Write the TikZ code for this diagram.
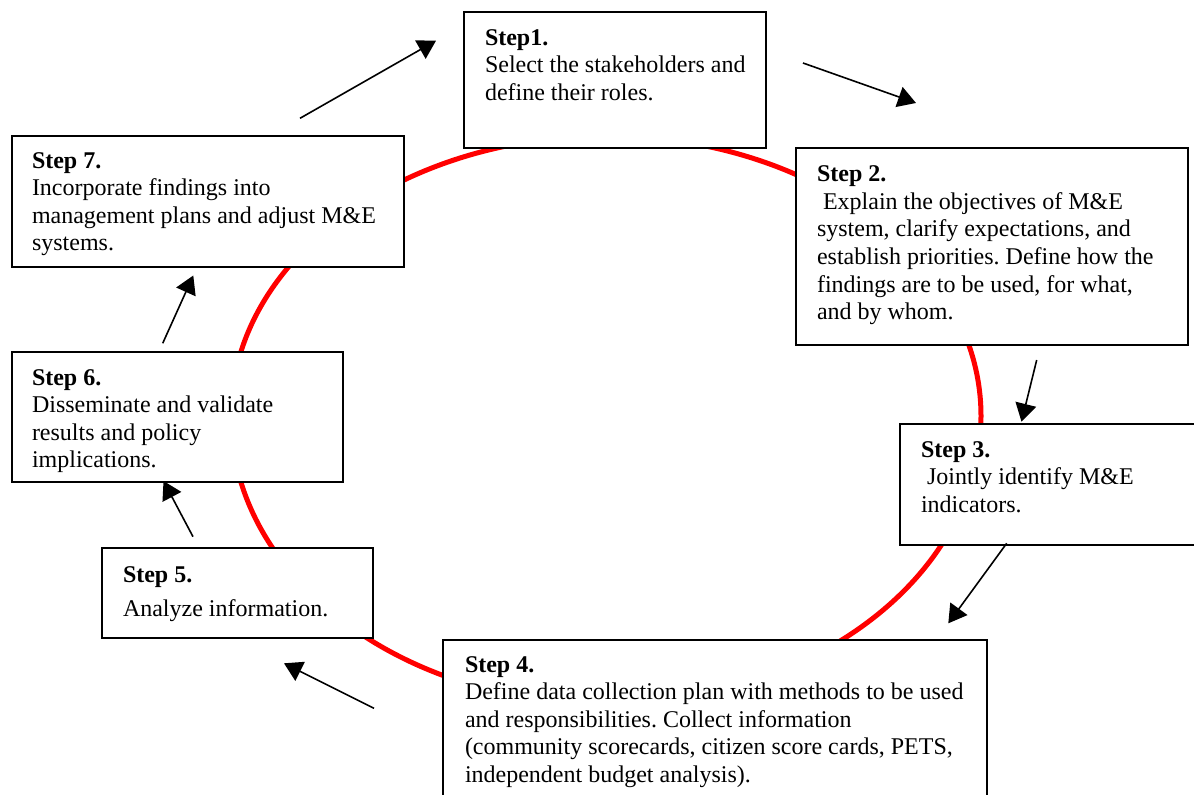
\documentclass[tikz,border=0pt]{standalone}
\usepackage{fontspec}
\setmainfont{Liberation Serif}
\frenchspacing
\usetikzlibrary{arrows.meta}
\begin{document}
\begin{tikzpicture}[x=1pt,y=-1pt,
  ring/.style={draw=red,line width=5pt},
  stepbox/.style={draw=black,fill=white,line width=1.8pt,anchor=north west,inner sep=0pt,outer sep=0pt},
  steptext/.style={anchor=north west,inner sep=0pt,outer sep=0pt,align=left,font=\fontsize{24}{27.6}\selectfont},
  flow/.style={draw=black,line width=1.6pt,-{Triangle[length=18pt,width=21pt]}}]
\useasboundingbox (0,0) rectangle (1194,795);
% red cycle (slightly egg shaped: flatter at the top)
\draw[ring] (231,416) arc[start angle=180,end angle=0,x radius=375pt,y radius=280pt]
  arc[start angle=0,end angle=-180,x radius=375pt,y radius=288pt] -- cycle;
% boxes
\node[stepbox,minimum width=302pt,minimum height=136pt] (b1) at (464,12) {};
\node[stepbox,minimum width=392pt,minimum height=197pt] (b2) at (796,148) {};
\node[stepbox,minimum width=302pt,minimum height=121pt] (b3) at (900,424) {};
\node[stepbox,minimum width=544pt,minimum height=162pt] (b4) at (443,640) {};
\node[stepbox,minimum width=271pt,minimum height=90pt] (b5) at (102,548) {};
\node[stepbox,minimum width=331pt,minimum height=130pt] (b6) at (12,352) {};
\node[stepbox,minimum width=392pt,minimum height=131pt] (b7) at (12,136) {};
% texts
\node[steptext] (t1) at (485,25.7) {\strut\textbf{Step1.}\\\strut Select the stakeholders and\\\strut define their roles.};
\node[steptext] (t2) at (817,162.4) {\strut\textbf{Step 2.}\\\strut\ Explain the objectives of M\&E\\\strut system, clarify expectations, and\\\strut establish priorities. Define how the\\\strut findings are to be used, for what,\\\strut and by whom.};
\node[steptext] (t3) at (921,437.7) {\strut\textbf{Step 3.}\\\strut\ Jointly identify M\&E\\\strut indicators.};
\node[steptext] (t4) at (465,652.7) {\strut\textbf{Step 4.}\\\strut Define data collection plan with methods to be used\\\strut and responsibilities. Collect information\\\strut (community scorecards, citizen score cards, PETS,\\\strut independent budget analysis).};
\node[steptext] (t5) at (123,562.7) {\strut\textbf{Step 5.}\\[6.4pt]\strut Analyze information.};
\node[steptext] (t6) at (32,365.7) {\strut\textbf{Step 6.}\\\strut Disseminate and validate\\\strut results and policy\\\strut implications.};
\node[steptext] (t7) at (32,148.7) {\strut\textbf{Step 7.}\\\strut Incorporate findings into\\\strut management plans and adjust M\&E\\\strut systems.};
% arrow end points
\coordinate (a1s) at (300,118.3); \coordinate (a1e) at (436,40.7);
\coordinate (a2s) at (803,63);    \coordinate (a2e) at (916,103);
\coordinate (a3s) at (1036.7,360); \coordinate (a3e) at (1021.5,421.7);
\coordinate (a4s) at (1006.7,543.3); \coordinate (a4e) at (948.3,623.3);
\coordinate (a5s) at (374,708.3); \coordinate (a5e) at (284,663.3);
\coordinate (a6s) at (193,536.7); \coordinate (a6e) at (163.5,481);
\coordinate (a7s) at (162.7,343.3); \coordinate (a7e) at (193.3,275.5);
\draw[flow] (a1s) -- (a1e);
\draw[flow] (a2s) -- (a2e);
\draw[flow] (a3s) -- (a3e);
\draw[flow] (a4s) -- (a4e);
\draw[flow] (a5s) -- (a5e);
\draw[flow] (a6s) -- (a6e);
\draw[flow] (a7s) -- (a7e);
\end{tikzpicture}
\end{document}
